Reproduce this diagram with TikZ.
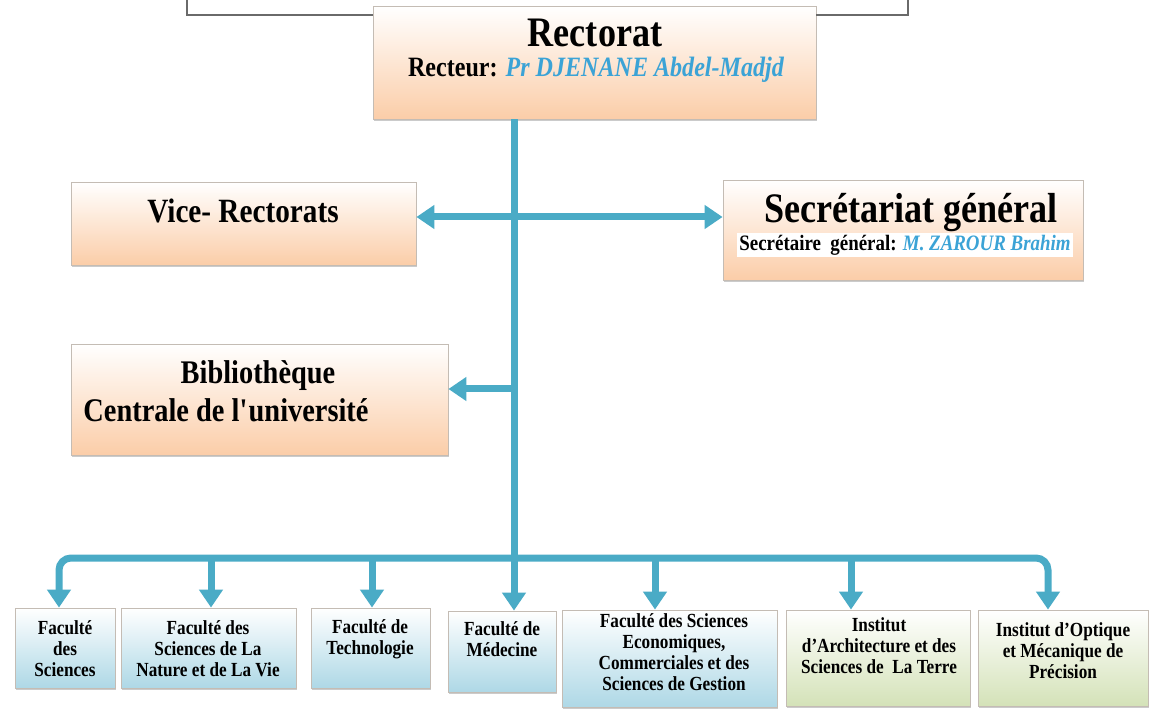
\documentclass[tikz,border=0pt]{standalone}
\usepackage{fontspec}
\setmainfont{Liberation Serif}[FakeStretch=0.86]
\usetikzlibrary{arrows.meta,positioning,fit,shadows}
\definecolor{aqua}{HTML}{4AABC6}
\definecolor{nameblue}{HTML}{3BA3D6}
\definecolor{peach}{HTML}{FBCDA8}
\definecolor{lblue}{HTML}{AED8E6}
\definecolor{lgreen}{HTML}{D4E2B8}
\definecolor{boxline}{HTML}{C4BCB4}
\definecolor{frameline}{HTML}{6A6A6A}

\begin{document}
\begin{tikzpicture}[x=0.5pt,y=-0.5pt]
        % Box and link styles
        \tikzset{
            conn/.style={aqua, line width=3.5pt},
            arr/.style={conn, -{Triangle[width=11.5pt,length=9pt]}},
            darr/.style={conn, {Triangle[width=11.5pt,length=9pt]}-{Triangle[width=11.5pt,length=9pt]}},
            pbox/.style={draw=boxline, line width=0.4pt, inner sep=0pt,
                top color=white, bottom color=peach,
                drop shadow={shadow xshift=0.6pt, shadow yshift=-1.2pt, fill=black!45, opacity=.45}},
            bbox/.style={pbox, bottom color=lblue},
            gbox/.style={pbox, bottom color=lgreen},
            ftext/.style={font=\fontsize{10}{10.5}\selectfont\bfseries, align=center, inner sep=0pt, anchor=north}
        }
        \useasboundingbox (0,0) rectangle (1152,711);

        % ==========================================
        % TOP: RECTORAT
        % ==========================================
        \node[pbox, fit={(373,6) (816,119)}] (rect) {};
        \draw[frameline, line width=0.8pt] (187,0) |- (rect.west |- 0,15);
        \draw[frameline, line width=0.8pt] (rect.east |- 0,15) -| (908,0);
        \node[font=\fontsize{21}{24}\selectfont\bfseries] (rectt) at (595,33) {Rectorat};
        \node[font=\fontsize{14}{16}\selectfont\bfseries] (rectn) at (596,70)
            {Recteur: \textcolor{nameblue}{\itshape Pr DJENANE Abdel-Madjd}};

        % ==========================================
        % MIDDLE: VICE-RECTORATS, SECRETARIAT, BIBLIOTHEQUE
        % ==========================================
        \node[pbox, fit={(71,182) (416,265)}] (vr) {};
        \node[font=\fontsize{17}{19}\selectfont\bfseries] (vrt) at (243,211) {Vice- Rectorats};

        \node[pbox, fit={(723,180) (1083,280)}] (sg) {};
        \node[font=\fontsize{21}{24}\selectfont\bfseries] (sgt) at (911,213) {Secrétariat général};
        \node[font=\fontsize{11}{12}\selectfont\bfseries, fill=white, inner sep=1pt] (sgn) at (905,245)
            {Secrétaire\ \ général: \textcolor{nameblue}{\itshape M. ZAROUR Brahim}};

        \node[pbox, fit={(71,344) (448,455)}] (bib) {};
        \node[font=\fontsize{16.5}{19}\selectfont\bfseries, align=center] (bibt) at (226,391)
            {\hspace*{32pt}Bibliothèque\\Centrale de l\textquotesingle université};

        % ==========================================
        % BOTTOM: FACULTES ET INSTITUTS
        % ==========================================
        \node[bbox, fit={(15,608) (115,688)}] (f1) {};
        \node[bbox, fit={(121,608) (296,688)}] (f2) {};
        \node[bbox, fit={(311,608) (430,688)}] (f3) {};
        \node[bbox, fit={(448,611) (556,692)}] (f4) {};
        \node[bbox, fit={(562,610) (777,707)}] (f5) {};
        \node[gbox, fit={(786,610) (970,706)}] (f6) {};
        \node[gbox, fit={(978,610) (1148,706)}] (f7) {};

        \node[ftext] (f1t) at (65,620) {Faculté\\des\\Sciences};
        \node[ftext] (f2t) at (208,620) {Faculté des\\Sciences de La\\Nature et de La Vie};
        \node[ftext] (f3t) at (370,619) {Faculté de\\Technologie};
        \node[ftext] (f4t) at (502,621) {Faculté de\\Médecine};
        \node[ftext] (f5t) at (674,613) {Faculté des Sciences\\Economiques,\\Commerciales et des\\Sciences de Gestion};
        \node[ftext] (f6t) at (879,617) {Institut\\d'Architecture et des\\Sciences de\ \ La Terre};
        \node[ftext] (f7t) at (1063,622) {Institut d'Optique\\et Mécanique de\\Précision};

        % ==========================================
        % LINKS
        % ==========================================
        \coordinate (hub) at (514,558);
        \coordinate (hv) at (514,217);
        \coordinate (hb) at (514,389);
        \draw[conn] (hub |- rect.south) -- (hub);
        \draw[darr] (hv -| vr.east) -- (hv -| sg.west);
        \draw[arr] (hb) -- (hb -| bib.east);

        \draw[arr, rounded corners=6pt] (hub) -| (f1.north -| 59,0);
        \draw[arr, rounded corners=6pt] (hub) -| (f7.north -| 1048,0);
        \foreach \f/\x in {f2/211, f3/372, f5/655, f6/851}
            \draw[arr] (hub -| \x,0) -- (\f.north -| \x,0);
        \draw[arr] (hub) -- (hub |- f4.north);
    \end{tikzpicture}
\end{document}
